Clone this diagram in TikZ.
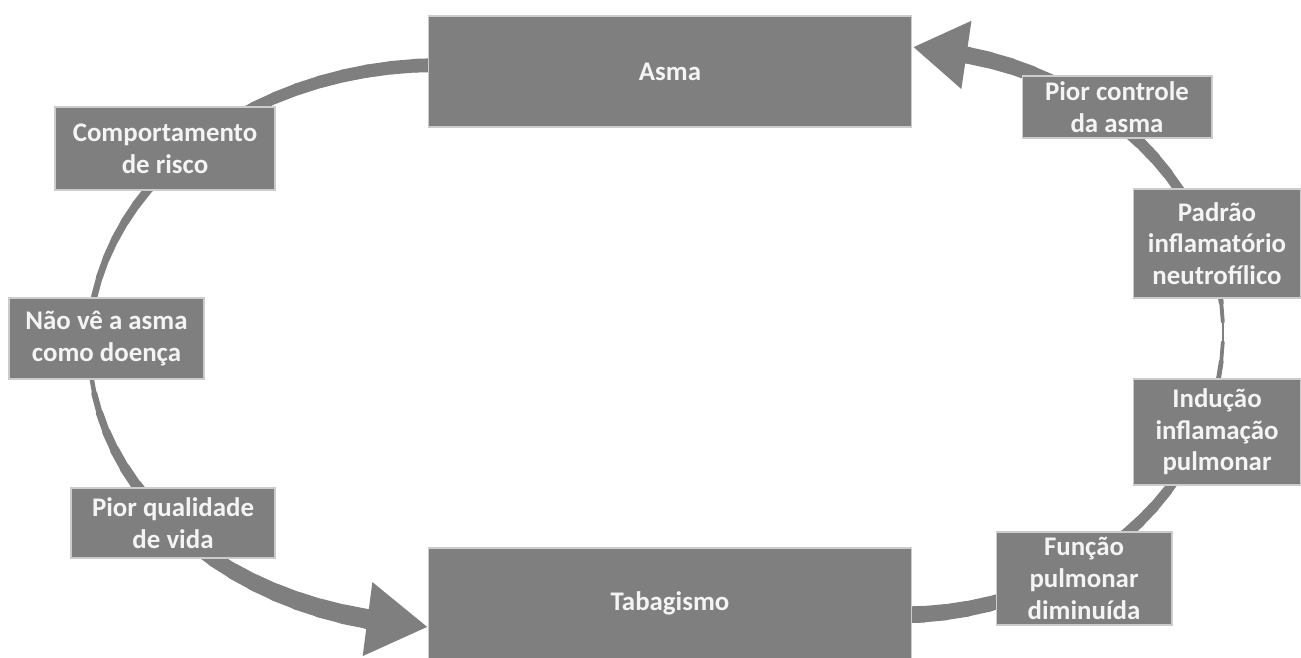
\documentclass[tikz,border=0pt]{standalone}
\usepackage{fontspec}
\setmainfont{Carlito}
\usetikzlibrary{arrows.meta}
\definecolor{boxgray}{HTML}{7F7F7F}
\definecolor{txtwhite}{HTML}{F4F4F4}

\begin{document}
\begin{tikzpicture}[
    x=0.02cm, y=-0.02cm,
    box/.style={rectangle, draw=white!80!black, line width=0.6pt, fill=boxgray, text=txtwhite, inner sep=0pt, align=center, font=\fontsize{15.3}{18}\selectfont\bfseries},
    band/.style={draw=boxgray, line cap=round}
]

\useasboundingbox[fill=white] (0,0) rectangle (1301,657);

\foreach \i in {0,...,41}{
  \pgfmathsetmacro\ta{90+4*\i}
  \pgfmathsetmacro\tb{\ta+4}
  \pgfmathsetmacro\s{(\i+0.5)/42}
  \pgfmathsetmacro\u{abs(\s-0.57)/(\s<0.57 ? 0.57 : 0.43)}
  \pgfmathsetmacro\w{0.567*(3+(\s<0.57 ? 11 : 17)*pow(\u+0.001,0.7))}
  \draw[band, line width=\w pt] ({440+351*cos(\ta)},{345-280*sin(\ta)}) -- ({440+351*cos(\tb)},{345-280*sin(\tb)});
}

\foreach \i in {0,...,41}{
  \pgfmathsetmacro\ta{-90+4*\i}
  \pgfmathsetmacro\tb{\ta+4}
  \pgfmathsetmacro\s{(\i+0.5)/42}
  \pgfmathsetmacro\u{abs(\s-0.536)/(\s<0.536 ? 0.536 : 0.464)}
  \pgfmathsetmacro\w{0.567*(2+15*pow(\u+0.001,0.7))}
  \draw[band, line width=\w pt] ({900+323*cos(\ta)},{332-283*sin(\ta)}) -- ({900+323*cos(\tb)},{332-283*sin(\tb)});
}

\coordinate (lbase) at (367,619);
\coordinate (ltip) at (428,627);
\coordinate (rbase) at (967,55);
\coordinate (rtip) at (913,47);

\draw[band, line width=11.3pt, -{Triangle[length=1.22cm, width=1.4cm]}] (lbase) -- (ltip);
\draw[band, line width=9.6pt, -{Triangle[length=1.08cm, width=1.3cm]}] (rbase) -- (rtip);

\node[box, minimum width=9.68cm, minimum height=2.22cm] (asma) at (670,71.5) {Asma};
\node[box, minimum width=9.68cm, minimum height=2.22cm] (tabagismo) at (670,603.5) {Tabagismo};

\node[box, minimum width=4.4cm, minimum height=1.66cm] (risco) at (165,148.5) {Comportamento\\de risco};
\node[box, minimum width=3.9cm, minimum height=1.62cm] (doenca) at (106.5,338.5) {Não vê a asma\\como doença};
\node[box, minimum width=4.08cm, minimum height=1.4cm] (qualidade) at (173,523) {Pior qualidade\\de vida};

\node[box, minimum width=3.8cm, minimum height=1.24cm] (controle) at (1117,107) {Pior controle\\da asma};
\node[box, minimum width=3.36cm, minimum height=2.18cm] (padrao) at (1217,243.5) {Padrão\\inflamatório\\neutrofílico};
\node[box, minimum width=3.36cm, minimum height=2.12cm] (inducao) at (1217,432) {Indução\\inflamação\\pulmonar};
\node[box, minimum width=3.52cm, minimum height=1.86cm] (funcao) at (1084,578.5) {Função\\pulmonar\\diminuída};

\end{tikzpicture}
\end{document}
